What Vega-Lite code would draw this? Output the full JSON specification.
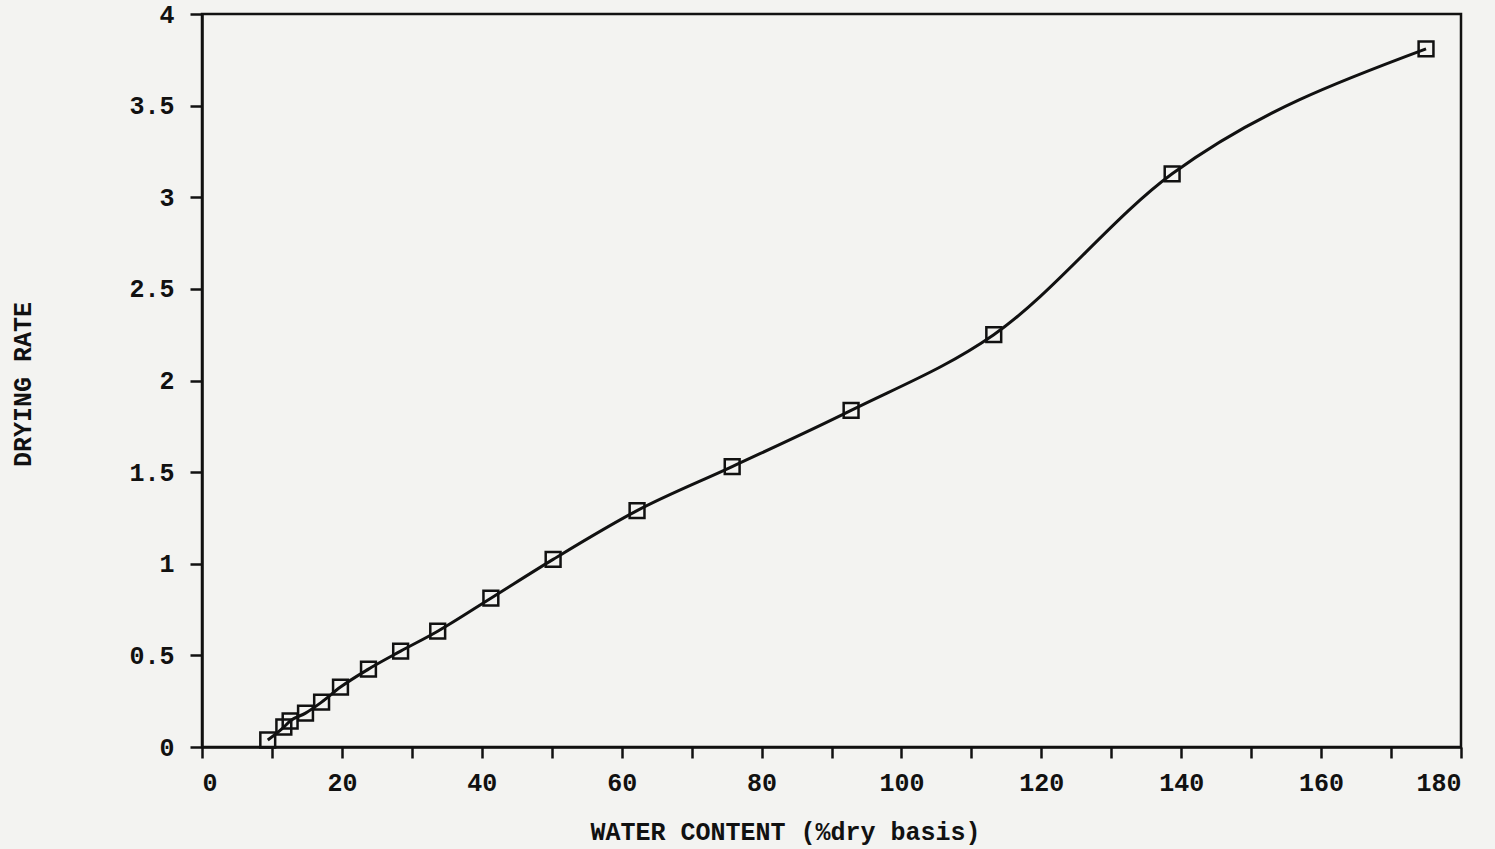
{
  "$schema": "https://vega.github.io/schema/vega-lite/v6.json",
  "autosize": "none",
  "width": 1259,
  "height": 733,
  "padding": {"left": 202, "top": 14, "right": 34, "bottom": 102},
  "background": "#f3f3f1",
  "config": {
    "view": {"stroke": "#111", "strokeWidth": 2.5},
    "axis": {
      "domainColor": "#111",
      "domainWidth": 2.5,
      "tickColor": "#111",
      "tickWidth": 2.5,
      "grid": false,
      "labelFont": "Liberation Mono",
      "labelFontWeight": "bold",
      "labelFontSize": 25,
      "labelColor": "#111",
      "titleFont": "Liberation Mono",
      "titleFontWeight": "bold",
      "titleFontSize": 25,
      "titleColor": "#111"
    }
  },
  "data": {
    "values": [
      {"water": 9.4, "rate": 0.038},
      {"water": 11.7, "rate": 0.109},
      {"water": 12.6, "rate": 0.142},
      {"water": 14.8, "rate": 0.185},
      {"water": 17.1, "rate": 0.245},
      {"water": 19.8, "rate": 0.327},
      {"water": 23.8, "rate": 0.425},
      {"water": 28.4, "rate": 0.523},
      {"water": 33.7, "rate": 0.632},
      {"water": 41.3, "rate": 0.812},
      {"water": 50.2, "rate": 1.024},
      {"water": 62.2, "rate": 1.29},
      {"water": 75.8, "rate": 1.53},
      {"water": 92.8, "rate": 1.837},
      {"water": 113.2, "rate": 2.25},
      {"water": 138.7, "rate": 3.128},
      {"water": 175.0, "rate": 3.81}
    ]
  },
  "encoding": {
    "x": {
      "field": "water",
      "type": "quantitative",
      "scale": {"domain": [0, 180], "nice": false},
      "axis": {
        "title": "WATER CONTENT (%dry basis)",
        "values": [0, 10, 20, 30, 40, 50, 60, 70, 80, 90, 100, 110, 120, 130, 140, 150, 160, 170, 180],
        "labelExpr": "datum.value % 20 === 0 ? datum.label : ''",
        "tickSize": 11,
        "labelPadding": 12,
        "titleX": 583,
        "titleY": 84,
        "titleAlign": "center",
        "titleBaseline": "middle"
      }
    },
    "y": {
      "field": "rate",
      "type": "quantitative",
      "scale": {"domain": [0, 4], "nice": false},
      "axis": {
        "title": "DRYING RATE",
        "values": [0, 0.5, 1, 1.5, 2, 2.5, 3, 3.5, 4],
        "format": "~g",
        "tickSize": 12,
        "labelPadding": 16,
        "titleX": -180,
        "titleY": 370,
        "titleAlign": "center",
        "titleBaseline": "middle",
        "titleAngle": -90
      }
    }
  },
  "layer": [
    {
      "mark": {"type": "line", "interpolate": "monotone", "color": "#111", "strokeWidth": 3}
    },
    {
      "mark": {"type": "point", "shape": "square", "size": 220, "filled": false, "color": "#111", "strokeWidth": 2.5, "opacity": 1}
    }
  ]
}
